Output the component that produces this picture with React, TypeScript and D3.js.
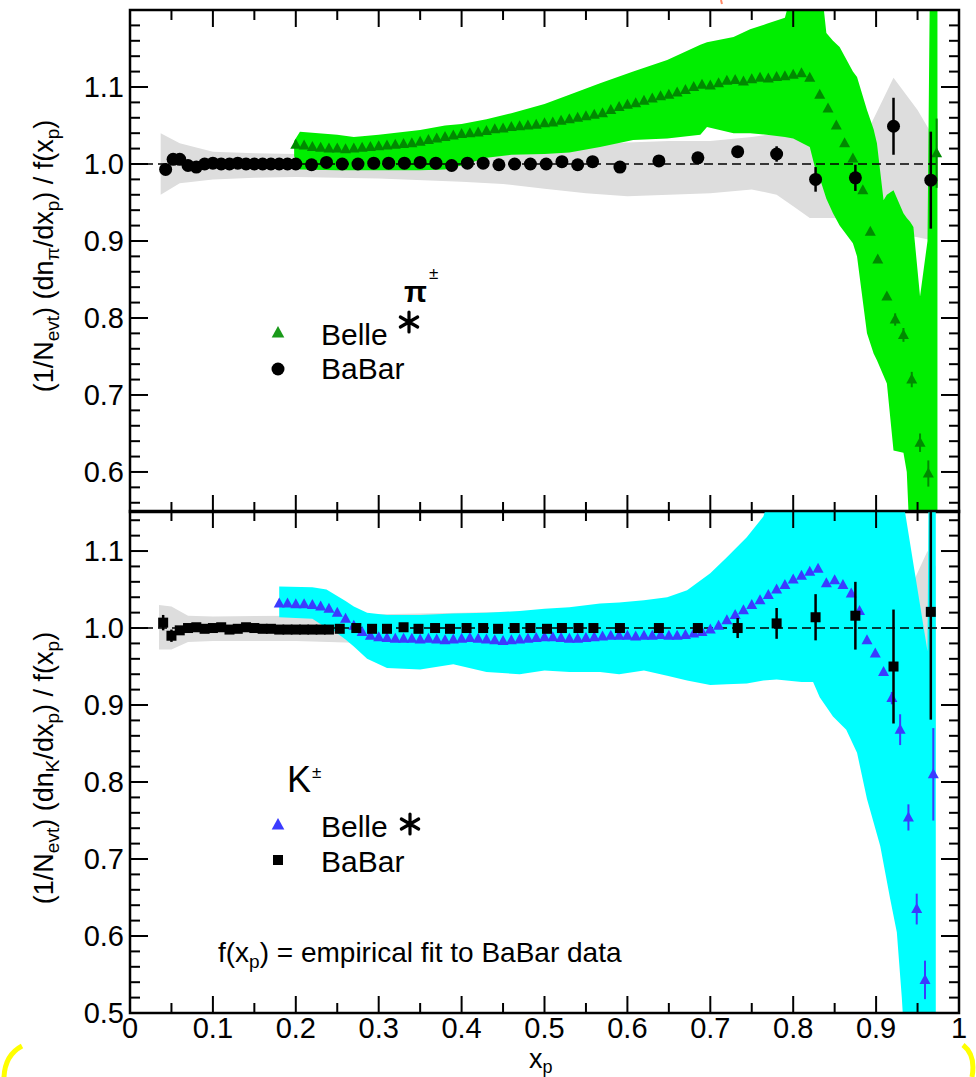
import React from "react";
import * as d3 from "d3";

// ---- data ----

// pi+- , BaBar (black circles)
const piBabarX = [0.043,0.052,0.06,0.07,0.08,0.09,0.1,0.11,0.12,0.13,0.14,0.15,0.16,0.17,0.18,0.19,
  0.2,0.219,0.237,0.256,0.275,0.294,0.312,0.331,0.35,0.369,0.388,0.407,0.426,0.445,0.464,0.483,0.502,0.521,0.54,0.558,
  0.591,0.638,0.685,0.733,0.78,0.827,0.875,0.921,0.966];
const piBabarY = [0.993,1.006,1.006,0.998,0.996,1.0,1.001,1.0,1.0,1.001,1.0,1.0,1.0,1.0,1.0,1.0,
  1.0,0.999,1.002,1.0,1.0,1.001,1.001,1.001,1.002,1.001,0.998,1.001,1.001,0.999,1.0,1.0,1.0,1.003,0.999,1.003,
  0.996,1.004,1.008,1.016,1.013,0.98,0.982,1.049,0.979];
const piBabarErr = [0.002,0.002,0.002,0.002,0.002,0.002,0.002,0.002,0.002,0.002,0.002,0.002,0.002,0.002,0.002,0.002,
  0.002,0.002,0.002,0.002,0.002,0.002,0.002,0.002,0.002,0.002,0.002,0.002,0.002,0.002,0.002,0.002,0.002,0.002,0.002,0.002,
  0.003,0.004,0.005,0.006,0.01,0.016,0.017,0.037,0.063];

// pi+- , Belle (green triangles), dense bins 0.20 .. 0.82
const piBelleDenseY = [1.025,1.024,1.022,1.021,1.02,1.02,1.019,1.02,1.021,1.022,
  1.023,1.024,1.025,1.026,1.027,1.029,1.031,1.033,1.035,1.037,
  1.039,1.04,1.041,1.043,1.045,1.046,1.048,1.049,1.05,1.051,
  1.053,1.054,1.056,1.058,1.06,1.062,1.064,1.066,1.07,1.074,
  1.077,1.079,1.082,1.085,1.088,1.09,1.093,1.096,1.1,1.103,
  1.102,1.105,1.108,1.109,1.107,1.11,1.112,1.111,1.113,1.114,
  1.116,1.118,1.112];
const piBelleSparseX = [0.832,0.842,0.852,0.862,0.872,0.884,0.893,0.902,0.913,0.923,0.933,0.943,0.953,0.963,0.973];
const piBelleSparseY = [1.09,1.072,1.05,1.027,1.007,0.966,0.912,0.876,0.828,0.798,0.778,0.72,0.638,0.598,1.014];
const piBelleSparseErr = [0.003,0.003,0.003,0.004,0.004,0.005,0.006,0.006,0.007,0.008,0.009,0.01,0.012,0.017,0.045];

// [x, low, high]
const piGrayBand = [[0.037,0.96,1.04],[0.06,0.975,1.027],[0.1,0.98,1.016],[0.15,0.982,1.014],[0.2,0.983,1.013],
  [0.3,0.981,1.015],[0.4,0.977,1.018],[0.45,0.974,1.02],[0.5,0.968,1.022],[0.55,0.962,1.025],[0.6,0.958,1.028],
  [0.65,0.96,1.03],[0.7,0.962,1.03],[0.75,0.967,1.035],[0.78,0.96,1.04],[0.8,0.945,1.045],[0.82,0.93,1.05],
  [0.85,0.93,1.05],[0.87,0.925,1.045],[0.893,0.915,1.05],[0.921,0.91,1.112],[0.95,0.905,1.07],[0.972,0.9,1.03]];
const piGreenBand = [[0.198,1.01,1.03],[0.205,0.993,1.042],[0.25,0.992,1.038],[0.27,0.992,1.035],[0.3,0.992,1.038],
  [0.35,0.992,1.044],[0.38,0.993,1.05],[0.4,0.998,1.052],[0.43,1.008,1.058],[0.46,1.012,1.066],[0.5,1.013,1.078],
  [0.53,1.015,1.09],[0.567,1.022,1.105],[0.607,1.031,1.12],[0.648,1.033,1.135],[0.688,1.038,1.155],[0.696,1.048,1.158],
  [0.728,1.04,1.165],[0.748,1.04,1.175],[0.768,1.038,1.182],[0.79,1.035,1.19],[0.8,1.033,1.23],[0.82,1.022,1.23],
  [0.828,0.988,1.23],[0.834,0.975,1.23],[0.84,0.955,1.17],[0.848,0.936,1.16],[0.856,0.92,1.152],[0.872,0.897,1.12],
  [0.877,0.88,1.113],[0.889,0.78,1.07],[0.897,0.754,1.045],[0.901,0.745,1.027],[0.909,0.725,0.953],[0.913,0.715,0.96],
  [0.921,0.628,0.966],[0.933,0.625,0.936],[0.937,0.6,0.93],[0.941,0.5,0.925],[0.945,0.5,0.918],[0.953,0.5,0.828],
  [0.962,0.5,0.9],[0.965,0.5,1.25],[0.974,0.5,1.25]];

// K+- , BaBar (black squares)
const kBabarX = [0.04,0.05,0.06,0.07,0.08,0.09,0.1,0.11,0.12,0.13,0.14,0.15,0.16,0.17,0.18,0.19,0.2,0.21,0.22,0.23,0.24,
  0.253,0.273,0.292,0.31,0.33,0.348,0.368,0.386,0.406,0.426,0.444,0.464,0.483,0.503,0.521,0.541,0.559,
  0.591,0.638,0.685,0.733,0.78,0.827,0.875,0.921,0.966];
const kBabarY = [1.007,0.99,0.997,1.0,1.001,0.999,1.0,1.001,0.998,0.999,1.001,1.0,0.999,0.999,0.998,0.998,0.998,0.998,0.998,0.998,0.998,
  0.999,1.0,0.999,0.999,1.001,0.999,1.0,0.999,1.0,1.0,0.999,1.0,1.0,0.999,1.0,1.0,1.0,
  1.0,1.0,1.0,1.0,1.006,1.014,1.016,0.95,1.021];
const kBabarErr = [0.01,0.008,0.004,0.002,0.002,0.002,0.002,0.002,0.002,0.002,0.002,0.002,0.002,0.002,0.002,0.002,0.002,0.002,0.002,0.002,0.002,
  0.002,0.002,0.002,0.002,0.002,0.002,0.002,0.002,0.002,0.002,0.002,0.002,0.002,0.002,0.002,0.002,0.002,
  0.003,0.004,0.006,0.013,0.02,0.03,0.044,0.074,0.14];

// K+- , Belle (blue triangles), dense bins 0.18 .. 0.87
const kBelleDenseY = [1.032,1.032,1.031,1.031,1.03,1.028,1.025,1.02,1.012,1.003,
  0.995,0.99,0.988,0.987,0.986,0.986,0.986,0.985,0.986,0.985,
  0.984,0.985,0.986,0.987,0.986,0.985,0.984,0.983,0.984,0.985,
  0.986,0.987,0.988,0.988,0.987,0.986,0.986,0.987,0.988,0.989,
  0.99,0.99,0.99,0.989,0.99,0.99,0.991,0.99,0.99,0.991,
  0.993,0.995,0.998,1.003,1.01,1.017,1.023,1.03,1.036,1.043,
  1.05,1.056,1.063,1.068,1.073,1.077,1.058,1.062,1.056,1.045];
const kBelleSparseX = [0.88,0.889,0.899,0.909,0.919,0.929,0.939,0.949,0.959,0.969];
const kBelleSparseY = [1.022,0.984,0.967,0.943,0.909,0.868,0.754,0.635,0.543,0.81];
const kBelleSparseErr = [0.004,0.005,0.006,0.007,0.008,0.02,0.017,0.02,0.025,0.06];

const kGrayBand = [[0.035,0.972,1.03],[0.05,0.972,1.028],[0.07,0.982,1.016],[0.1,0.983,1.015],[0.2,0.983,1.016],
  [0.3,0.98,1.018],[0.4,0.978,1.02],[0.5,0.975,1.022],[0.6,0.97,1.028],[0.7,0.965,1.035],[0.8,0.95,1.05],
  [0.85,0.94,1.05],[0.9,0.92,1.04],[0.921,0.9,1.04],[0.945,0.88,1.06],[0.962,0.85,1.1],[0.972,0.8,1.08]];
const kCyanBand = [[0.18,1.014,1.054],[0.22,1.012,1.053],[0.237,1.0,1.05],[0.245,0.997,1.045],[0.26,0.985,1.035],
  [0.27,0.976,1.028],[0.286,0.96,1.02],[0.31,0.948,1.017],[0.35,0.946,1.017],[0.39,0.953,1.019],[0.43,0.943,1.02],
  [0.47,0.94,1.022],[0.5,0.945,1.025],[0.53,0.943,1.027],[0.567,0.943,1.032],[0.59,0.94,1.033],[0.62,0.945,1.036],
  [0.648,0.938,1.04],[0.672,0.932,1.049],[0.7,0.926,1.071],[0.72,0.927,1.092],[0.744,0.928,1.118],[0.764,0.932,1.145],
  [0.78,0.933,1.2],[0.81,0.93,1.2],[0.824,0.93,1.2],[0.832,0.91,1.2],[0.848,0.885,1.2],[0.864,0.868,1.2],
  [0.877,0.838,1.2],[0.889,0.778,1.2],[0.905,0.717,1.2],[0.917,0.648,1.2],[0.925,0.605,1.2],[0.931,0.52,1.2],
  [0.935,0.45,1.15],[0.962,0.45,0.97],[0.964,0.45,1.3],[0.972,0.45,1.3]];

const xTickLabels = ["0","0.1","0.2","0.3","0.4","0.5","0.6","0.7","0.8","0.9","1"];

// ---- layout ----
const W = 976, H = 1077;
const FONT = "'Liberation Sans', Arial, Helvetica, sans-serif";
const x = d3.scaleLinear().domain([0, 1]).range([130, 959]);
const yTop = d3.scaleLinear().domain([0.548, 1.2]).range([512, 10]);
const yBot = d3.scaleLinear().domain([0.5, 1.152]).range([1013, 511]);

const tri = (cx, cy, s = 1) =>
  `M${cx},${cy - 6 * s}L${cx + 5.5 * s},${cy + 4 * s}L${cx - 5.5 * s},${cy + 4 * s}Z`;

// six-armed asterisk drawn as strokes
function Star({ cx, cy, r = 10 }) {
  const arms = [90, 30, 150].map(a => {
    const t = (a * Math.PI) / 180;
    return `M${cx - r * Math.cos(t)},${cy - r * Math.sin(t)}L${cx + r * Math.cos(t)},${cy + r * Math.sin(t)}`;
  });
  return <path d={arms.join("")} stroke="#000" strokeWidth={3.2} strokeLinecap="round" fill="none" />;
}

function Panel({ id, y, top, bottom, gray, band, bandColor, belleX, belleY, sparseX, sparseY, sparseErr,
  belleColor, babarX, babarY, babarErr, square, yLabels }) {
  const area = d3.area().x(d => x(d[0])).y0(d => y(d[1])).y1(d => y(d[2]));
  const [d0, d1] = y.domain();
  const minor = d3.range(Math.ceil(d0 / 0.02) * 0.02, d1 + 1e-9, 0.02);
  const xMinor = d3.range(0, 1.0001, 0.05);
  const L = 130, R = 959;
  return (
    <g>
      <defs>
        <clipPath id={id}><rect x={L} y={top} width={R - L} height={bottom - top} /></clipPath>
      </defs>
      <g clipPath={`url(#${id})`}>
        <path d={area(gray)} fill="#dddddd" />
        <path d={area(band)} fill={bandColor} />
        <line x1={L} x2={R} y1={y(1)} y2={y(1)} stroke="#000" strokeWidth={1.5} strokeDasharray="9,5" />
        {belleY.map((v, i) => (
          <path key={"bd" + i} d={tri(x(belleX[i]), y(v))} fill={belleColor} />
        ))}
        {sparseY.map((v, i) => (
          <g key={"bs" + i}>
            {sparseErr[i] * 770 > 6 && (
              <line x1={x(sparseX[i])} x2={x(sparseX[i])} y1={y(v - sparseErr[i])} y2={y(v + sparseErr[i])}
                stroke={belleColor} strokeWidth={2} />
            )}
            <path d={tri(x(sparseX[i]), y(v))} fill={belleColor} />
          </g>
        ))}
        {babarY.map((v, i) => (
          <g key={"bb" + i}>
            {babarErr[i] * 770 > 6 && (
              <line x1={x(babarX[i])} x2={x(babarX[i])} y1={y(v - babarErr[i])} y2={y(v + babarErr[i])}
                stroke="#000" strokeWidth={2.5} />
            )}
            {square
              ? <rect x={x(babarX[i]) - 5} y={y(v) - 5} width={10} height={10} fill="#000" />
              : <circle cx={x(babarX[i])} cy={y(v)} r={6.5} fill="#000" />}
          </g>
        ))}
      </g>
      {/* ticks */}
      {minor.map((t, i) => {
        const major = Math.abs(t * 10 - Math.round(t * 10)) < 1e-6;
        const len = major ? 18 : 10;
        return (
          <g key={"yt" + i}>
            <line x1={L} x2={L + len} y1={y(t)} y2={y(t)} stroke="#000" strokeWidth={2} />
            <line x1={R} x2={R - len} y1={y(t)} y2={y(t)} stroke="#000" strokeWidth={2} />
          </g>
        );
      })}
      {xMinor.map((t, i) => {
        const len = i % 2 === 0 ? 17 : 10;
        return (
          <g key={"xt" + i}>
            <line x1={x(t)} x2={x(t)} y1={top} y2={top + len} stroke="#000" strokeWidth={2} />
            <line x1={x(t)} x2={x(t)} y1={bottom} y2={bottom - len} stroke="#000" strokeWidth={2} />
          </g>
        );
      })}
      <rect x={L} y={top} width={R - L} height={bottom - top} fill="none" stroke="#000" strokeWidth={2.5} />
      {yLabels.map(t => (
        <text key={"yl" + t} x={124} y={y(t) + 10} textAnchor="end" fontSize={29} fontFamily={FONT}>
          {t.toFixed(1)}
        </text>
      ))}
    </g>
  );
}

function YTitle({ cy, sub }) {
  return (
    <text transform={`translate(53,${cy}) rotate(-90)`} textAnchor="middle" fontSize={27} fontFamily={FONT}>
      (1/N<tspan dy={6} fontSize={19}>evt</tspan>
      <tspan dy={-6}>) (dn</tspan><tspan dy={6} fontSize={19}>{sub}</tspan>
      <tspan dy={-6}>/dx</tspan><tspan dy={6} fontSize={19}>p</tspan>
      <tspan dy={-6}>) / f(x</tspan><tspan dy={6} fontSize={19}>p</tspan>
      <tspan dy={-6}>)</tspan>
    </text>
  );
}

export default function App() {
  const piBelleX = piBelleDenseY.map((_, i) => 0.2 + i * 0.01);
  const kBelleX = kBelleDenseY.map((_, i) => 0.18 + i * 0.01);
  return (
    <svg width={W} height={H} style={{ position: "absolute", left: 0, top: 0, background: "#fff" }}>
      <rect width={W} height={H} fill="#fff" />
      <Panel id="cpTop" y={yTop} top={10} bottom={512} gray={piGrayBand} band={piGreenBand} bandColor="#00ee00"
        belleX={piBelleX} belleY={piBelleDenseY} sparseX={piBelleSparseX} sparseY={piBelleSparseY}
        sparseErr={piBelleSparseErr} belleColor="#008a00" babarX={piBabarX} babarY={piBabarY}
        babarErr={piBabarErr} square={false} yLabels={[0.6, 0.7, 0.8, 0.9, 1.0, 1.1]} />
      <Panel id="cpBot" y={yBot} top={511} bottom={1013} gray={kGrayBand} band={kCyanBand} bandColor="#00ffff"
        belleX={kBelleX} belleY={kBelleDenseY} sparseX={kBelleSparseX} sparseY={kBelleSparseY}
        sparseErr={kBelleSparseErr} belleColor="#3b3bff" babarX={kBabarX} babarY={kBabarY}
        babarErr={kBabarErr} square={true} yLabels={[0.5, 0.6, 0.7, 0.8, 0.9, 1.0, 1.1]} />

      {xTickLabels.map((s, i) => (
        <text key={"xl" + i} x={x(i / 10)} y={1038} textAnchor="middle" fontSize={29} fontFamily={FONT}>{s}</text>
      ))}
      <text x={529} y={1068} fontSize={27} fontFamily={FONT}>x<tspan dy={5} fontSize={18}>p</tspan></text>

      <YTitle cy={256} sub="π" />
      <YTitle cy={768} sub="K" />

      {/* top legend */}
      <text x={404} y={302} fontSize={30} fontFamily={FONT} fontWeight="bold">π</text>
      <text x={429} y={279} fontSize={17} fontFamily={FONT}>±</text>
      <path d={tri(278, 333, 1.15)} fill="#1a9a1a" />
      <text x={321} y={345} fontSize={30} fontFamily={FONT}>Belle</text>
      <Star cx={409} cy={322} />
      <circle cx={278} cy={369} r={6.5} fill="#000" />
      <text x={321} y={379} fontSize={30} fontFamily={FONT}>BaBar</text>

      {/* bottom legend */}
      <text x={287} y={792} fontSize={36} fontFamily={FONT}>K</text>
      <text x={312} y={778} fontSize={17} fontFamily={FONT}>±</text>
      <path d={tri(278, 825, 1.15)} fill="#3b3bff" />
      <text x={321} y={837} fontSize={30} fontFamily={FONT}>Belle</text>
      <Star cx={410} cy={824} />
      <rect x={273} y={855} width={10} height={10} fill="#000" />
      <text x={321} y={872} fontSize={30} fontFamily={FONT}>BaBar</text>

      <text x={218} y={962} fontSize={28} fontFamily={FONT}>
        f(x<tspan dy={6} fontSize={19}>p</tspan><tspan dy={-6}>) = empirical fit to BaBar data</tspan>
      </text>

      {/* yellow highlight marks at the page corners */}
      <path d="M22,1046 Q5,1055 4,1077" fill="none" stroke="#ffff00" strokeWidth={5} />
      <path d="M963,1045 Q976,1055 972,1077" fill="none" stroke="#ffff00" strokeWidth={5} />
      <line x1={721} x2={722} y1={0} y2={4} stroke="#ff8866" strokeWidth={2} />
    </svg>
  );
}
